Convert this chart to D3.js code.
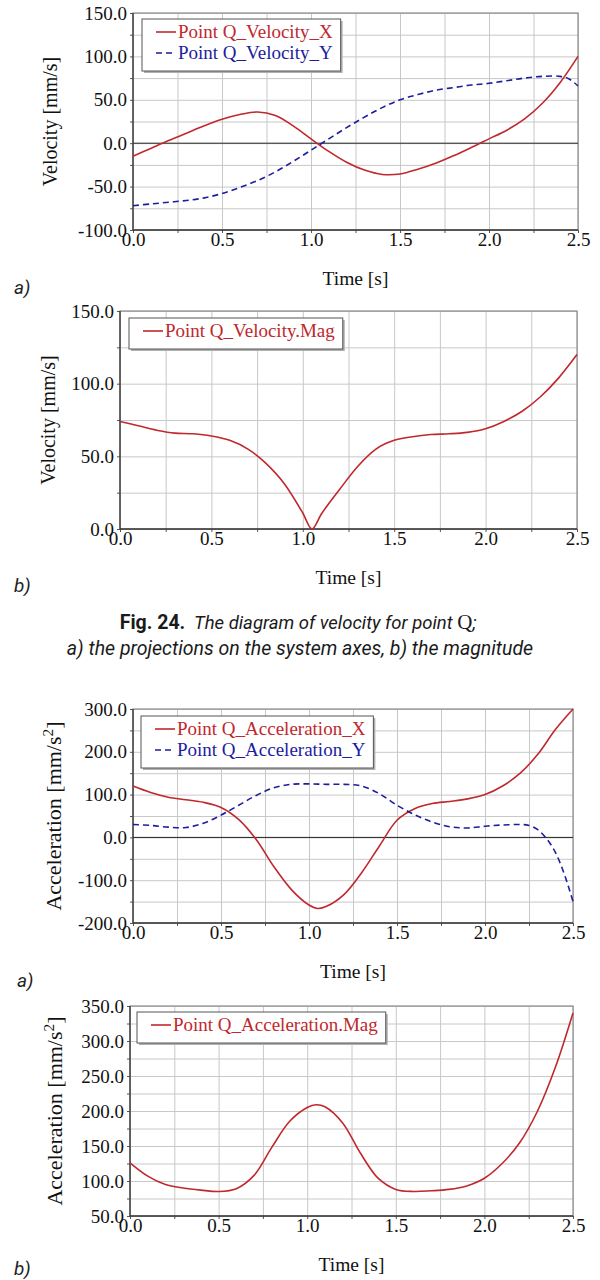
<!DOCTYPE html>
<html>
<head>
<meta charset="utf-8">
<script src="https://cdn.jsdelivr.net/npm/d3@7"></script>
<style>
  body { margin: 0; background: #fff; }
  svg text { font-family: "Liberation Serif", "Times New Roman", serif; fill: #111; }
  .grid line { stroke: #c8c8c8; stroke-width: 1; }
  .grid path, .labels path, .minor path { display: none; }
  .minor line { stroke: #555; }
  .labels text { font-size: 19px; }
  .caption { font-family: Roboto, "Noto Sans", sans-serif !important; }
  .panel-tag { font-family: Roboto, "Noto Sans", sans-serif !important; font-style: italic; font-size: 19px; fill: #222; }
</style>
</head>
<body>
<svg id="fig" width="600" height="1280"></svg>
<script>
// time samples (s)
const timeA = [0, 0.1, 0.2, 0.3, 0.4, 0.5, 0.6, 0.7, 0.8, 0.9, 1.0, 1.1, 1.2, 1.3, 1.4, 1.5, 1.6, 1.7, 1.8, 1.9, 2.0, 2.1, 2.2, 2.3, 2.4, 2.5]
const timeB = [0, 0.1, 0.2, 0.3, 0.4, 0.5, 0.6, 0.7, 0.8, 0.9, 1.0, 1.1, 1.2, 1.3, 1.4, 1.5, 1.6, 1.7, 1.8, 1.9, 2.0, 2.1, 2.2, 2.3, 2.4, 2.45, 2.5]
const timeC = [0, 0.1, 0.2, 0.3, 0.4, 0.5, 0.6, 0.7, 0.8, 0.9, 1.0, 1.05, 1.1, 1.2, 1.3, 1.4, 1.5, 1.6, 1.7, 1.8, 1.9, 2.0, 2.1, 2.2, 2.3, 2.4, 2.5]
const timeD = [0, 0.1, 0.2, 0.3, 0.4, 0.5, 0.6, 0.7, 0.8, 0.9, 1.0, 1.1, 1.2, 1.3, 1.4, 1.5, 1.6, 1.7, 1.8, 1.9, 2.0, 2.1, 2.2, 2.25, 2.3, 2.35, 2.4, 2.45, 2.5]

// velocity [mm/s]
const velX = [-15, -6, 3, 11.5, 20, 27.5, 33, 36, 32, 20, 5, -9.5, -22, -31, -36, -35.5, -30, -23, -14.5, -5, 5, 15, 28, 46, 70, 100]
const velY = [-72, -70, -68, -66, -63, -58, -51, -43, -33, -21, -8, 5, 18, 30, 41, 50, 56, 61, 64, 67, 69, 72, 75, 77, 77, 74, 66]
const velMag = [74, 71, 68, 66, 65.5, 64, 61, 55, 45, 31, 11, 0, 10, 27, 43, 55, 61, 63.5, 65, 65.5, 66.5, 69, 74, 81, 91, 104, 120]

// acceleration [mm/s^2]
const accX = [120, 105, 94, 88, 82, 70, 42, -5, -68, -122, -158, -166, -161, -133, -82, -20, 40, 67, 79, 84, 90, 100, 120, 150, 194, 252, 300]
const accY = [30, 28, 24, 23, 33, 52, 75, 98, 116, 124, 125, 124, 124, 120, 102, 75, 53, 36, 25, 22, 26, 29, 30, 28, 18, -3, -35, -85, -150]
const accMag = [126, 107, 95, 90, 87, 85, 89, 108, 148, 185, 205, 209, 206, 183, 140, 104, 88, 85, 86, 88, 93, 104, 125, 155, 200, 262, 340]

// axis ticks
const timeLabels = [0, 0.5, 1.0, 1.5, 2.0, 2.5]
const timeGrid = d3.range(0, 2.5001, 0.25)
const velXYLabels = [-100, -50, 0, 50, 100, 150]
const velXYGrid = d3.range(-100, 150.1, 25)
const velMagLabels = [0, 50, 100, 150]
const velMagGrid = d3.range(0, 150.1, 25)
const accXYLabels = [-200, -100, 0, 100, 200, 300]
const accXYGrid = d3.range(-200, 300.1, 50)
const accMagLabels = [50, 100, 150, 200, 250, 300, 350]
const accMagGrid = d3.range(50, 350.1, 25)

const RED = '#c0282d'
const BLUE = '#1d1d9e'

const svg = d3.select('#fig')
// plain hyphen minus, like the original plot
const fmt = d3.formatLocale({ decimal: '.', thousands: ',', grouping: [3], currency: ['', ''], minus: '-' }).format('.1f')

function zip(t, v) { return t.map((d, i) => ({ t: d, v: v[i] })) }

const smooth = d3.curveCatmullRom.alpha(0.5)

const panels = [
  {
    left: 133, right: 578, top: 13, bottom: 230,
    domain: [-100, 150], labels: velXYLabels, grid: velXYGrid, zero: true,
    title: 'Velocity [mm/s]', titleX: 50, titleSize: 20, tag: 'a)', tagX: 14, tagY: 294,
    series: [
      { name: 'Point Q_Velocity_X', t: timeA, v: velX, color: RED },
      { name: 'Point Q_Velocity_Y', t: timeB, v: velY, color: BLUE, dash: '6,4' }
    ],
    legend: { x: 142, y: 19 }
  },
  {
    left: 120, right: 577, top: 311, bottom: 529,
    domain: [0, 150], labels: velMagLabels, grid: velMagGrid, zero: false,
    title: 'Velocity [mm/s]', titleX: 48, titleSize: 20, tag: 'b)', tagX: 14, tagY: 592,
    series: [
      { name: 'Point Q_Velocity.Mag', t: timeC, v: velMag, color: RED, curve: d3.curveMonotoneX }
    ],
    legend: { x: 129, y: 318 }
  },
  {
    left: 133, right: 573, top: 709, bottom: 923,
    domain: [-200, 300], labels: accXYLabels, grid: accXYGrid, zero: true,
    title: 'Acceleration [mm/s', sup: true, titleX: 54, titleSize: 22, tag: 'a)', tagX: 17, tagY: 987,
    series: [
      { name: 'Point Q_Acceleration_X', t: timeC, v: accX, color: RED },
      { name: 'Point Q_Acceleration_Y', t: timeD, v: accY, color: BLUE, dash: '6,4' }
    ],
    legend: { x: 141, y: 716 }
  },
  {
    left: 130, right: 573, top: 1006, bottom: 1216,
    domain: [50, 350], labels: accMagLabels, grid: accMagGrid, zero: false,
    title: 'Acceleration [mm/s', sup: true, titleX: 55, titleSize: 22, tag: 'b)', tagX: 14, tagY: 1275,
    series: [
      { name: 'Point Q_Acceleration.Mag', t: timeC, v: accMag, color: RED }
    ],
    legend: { x: 137, y: 1012 }
  }
]

panels.forEach(p => {
  const g = svg.append('g')
  const x = d3.scaleLinear().domain([0, 2.5]).range([p.left, p.right])
  const y = d3.scaleLinear().domain(p.domain).range([p.bottom, p.top])
  const h = p.bottom - p.top
  const w = p.right - p.left

  // grid
  g.append('g').attr('class', 'grid')
    .attr('transform', `translate(0,${p.bottom})`)
    .call(d3.axisBottom(x).tickValues(timeGrid).tickSize(-h).tickFormat(''))
  g.append('g').attr('class', 'grid')
    .attr('transform', `translate(${p.left},0)`)
    .call(d3.axisLeft(y).tickValues(p.grid).tickSize(-w).tickFormat(''))

  // frame: light top/right, dark left/bottom
  g.append('rect').attr('x', p.left).attr('y', p.top).attr('width', w).attr('height', h)
    .attr('fill', 'none').attr('stroke', '#8c8c8c').attr('stroke-width', 1.2)

  if (p.zero) {
    g.append('line').attr('x1', p.left).attr('x2', p.right)
      .attr('y1', y(0)).attr('y2', y(0)).attr('stroke', '#222').attr('stroke-width', 1)
  }

  // minor ticks
  g.append('g').attr('class', 'minor').attr('transform', `translate(${p.left},0)`)
    .call(d3.axisLeft(y).tickValues(p.grid).tickSize(3).tickFormat(''))
  g.append('g').attr('class', 'minor').attr('transform', `translate(0,${p.bottom})`)
    .call(d3.axisBottom(x).tickValues(timeGrid).tickSize(3).tickFormat(''))

  g.append('line').attr('x1', p.left).attr('x2', p.left).attr('y1', p.top).attr('y2', p.bottom)
    .attr('stroke', '#3a3a3a').attr('stroke-width', 1.3)
  g.append('line').attr('x1', p.left).attr('x2', p.right).attr('y1', p.bottom).attr('y2', p.bottom)
    .attr('stroke', '#3a3a3a').attr('stroke-width', 1.3)

  // tick labels
  g.append('g').attr('class', 'labels').attr('transform', `translate(${p.left},0)`)
    .call(d3.axisLeft(y).tickValues(p.labels).tickSize(0).tickPadding(6).tickFormat(fmt))
  g.append('g').attr('class', 'labels').attr('transform', `translate(0,${p.bottom})`)
    .call(d3.axisBottom(x).tickValues(timeLabels).tickSize(0).tickPadding(2).tickFormat(fmt))
  g.selectAll('.labels line').remove()

  // series
  p.series.forEach(s => {
    const line = d3.line().x(d => x(d.t)).y(d => y(d.v)).curve(s.curve || smooth)
    g.append('path').datum(zip(s.t, s.v))
      .attr('fill', 'none').attr('stroke', s.color).attr('stroke-width', 1.6)
      .attr('stroke-dasharray', s.dash || null)
      .attr('d', line)
  })

  // axis titles
  g.append('text').attr('x', (p.left + p.right) / 2).attr('y', p.bottom + 55)
    .attr('text-anchor', 'middle').attr('font-size', 19.5).text('Time [s]')
  const yt = g.append('text')
    .attr('transform', `translate(${p.titleX},${(p.top + p.bottom) / 2}) rotate(-90)`)
    .attr('text-anchor', 'middle').attr('dy', '0.33em').attr('font-size', p.titleSize)
  yt.append('tspan').text(p.title)
  if (p.sup) {
    yt.append('tspan').attr('baseline-shift', 'super').attr('font-size', '70%').text('2')
    yt.append('tspan').text(']')
  }

  // legend
  const lg = g.append('g').attr('transform', `translate(${p.legend.x},${p.legend.y})`)
  const shadow = lg.append('rect').attr('x', 2).attr('y', 2).attr('fill', '#b0b0b0')
  const box = lg.append('rect').attr('fill', '#fff').attr('stroke', '#555').attr('stroke-width', 1)
  let maxW = 0
  p.series.forEach((s, i) => {
    const cy = 13 + i * 21
    lg.append('line').attr('x1', 14).attr('x2', 34).attr('y1', cy).attr('y2', cy)
      .attr('stroke', s.color).attr('stroke-width', 1.6).attr('stroke-dasharray', s.dash || null)
    const t = lg.append('text').attr('x', 36).attr('y', cy).attr('dy', '0.33em')
      .attr('font-size', 19).style('fill', s.color).text(s.name)
    maxW = Math.max(maxW, t.node().getComputedTextLength())
  })
  const bw = 36 + maxW + 8
  const bh = 10 + 21 * p.series.length
  box.attr('width', bw).attr('height', bh)
  shadow.attr('width', bw).attr('height', bh)

  svg.append('text').attr('class', 'panel-tag').attr('x', p.tagX).attr('y', p.tagY).text(p.tag)
})

// caption
const cap1 = svg.append('text').attr('class', 'caption').attr('x', 298).attr('y', 629)
  .attr('text-anchor', 'middle').style('fill', '#1a1a1a')
cap1.append('tspan').attr('font-weight', 'bold').attr('font-size', 19.5).text('Fig. 24.')
cap1.append('tspan').attr('font-style', 'italic').attr('font-size', 18.5).text('\u00a0 The diagram of velocity for point ')
cap1.append('tspan').style('font-family', '"Liberation Serif", serif').attr('font-size', 21).text('Q')
cap1.append('tspan').attr('font-style', 'italic').attr('font-size', 18.5).text(';')
svg.append('text').attr('class', 'caption').attr('x', 300).attr('y', 655)
  .attr('text-anchor', 'middle').attr('font-style', 'italic').attr('font-size', 19.5).style('fill', '#1a1a1a')
  .text('a) the projections on the system axes, b) the magnitude')
</script>
</body>
</html>
